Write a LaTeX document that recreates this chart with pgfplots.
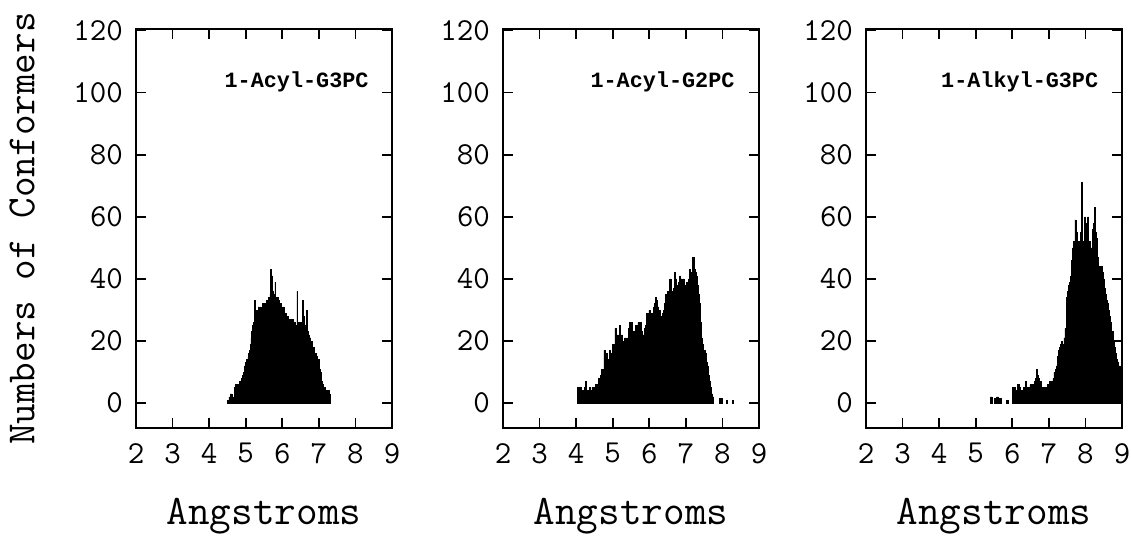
\documentclass[border=0pt]{standalone}
\usepackage{fontspec}
\usepackage{pgfplots}
\pgfplotsset{compat=1.18}
\newfontfamily\titlefont{Liberation Mono}

\pgfplotsset{
  panel/.style={
    scale only axis, width=128pt, height=199.5pt,
    xmin=2, xmax=9, ymin=-8, ymax=120.5,
    xtick={2,...,9}, ytick={0,20,...,120},
    tick align=inside, major tick length=5pt,
    axis line style={line width=0.9pt},
    every tick/.style={line width=0.8pt},
    /pgf/number format/assume math mode=true,
    tick label style={font=\fontsize{16}{18}\selectfont\ttfamily},
    xticklabel style={yshift=-4pt},
    yticklabel style={xshift=-3pt},
    xlabel={Angstroms},
    xlabel style={font=\fontsize{21}{24}\selectfont\ttfamily,
      at={(axis description cs:0.5,-0.222)}, anchor=center},
    clip=true,
  },
  hist/.style={const plot, fill=black, draw=black, line width=0.3pt},
}
\tikzset{ttl/.style={anchor=east, inner sep=0pt,
  font=\fontsize{10.9}{13}\selectfont\titlefont\bfseries}}

\begin{document}
\begin{tikzpicture}

% ---- 1-Acyl-G3PC
\begin{axis}[panel, at={(0,0)}, anchor=south west,
  ylabel={Numbers of Conformers},
  ylabel style={font=\fontsize{20}{22}\selectfont\ttfamily,
    at={(axis description cs:-0.445,0.5)}, anchor=center}]
\addplot[hist] coordinates {
(4.50,1) (4.52,1) (4.54,2) (4.56,1) (4.58,3) (4.60,3) (4.62,2) (4.64,1)
(4.66,2) (4.68,4) (4.70,5) (4.72,6) (4.74,5) (4.76,6) (4.78,5) (4.80,6)
(4.82,7) (4.84,6) (4.86,7) (4.88,8) (4.90,7) (4.92,9) (4.94,10) (4.96,12)
(4.98,11) (5.00,13) (5.02,14) (5.04,13) (5.06,15) (5.08,16) (5.10,17) (5.12,19)
(5.14,21) (5.16,23) (5.18,25) (5.20,24) (5.22,26) (5.24,33) (5.26,25) (5.28,27)
(5.30,30) (5.32,26) (5.34,31) (5.36,30) (5.38,28) (5.40,31) (5.42,30) (5.44,29)
(5.46,32) (5.48,30) (5.50,31) (5.52,32) (5.54,30) (5.56,33) (5.58,32) (5.60,31)
(5.62,34) (5.64,33) (5.66,35) (5.68,43) (5.70,37) (5.72,41) (5.74,36) (5.76,35)
(5.78,33) (5.80,39) (5.82,34) (5.84,33) (5.86,34) (5.88,32) (5.90,33) (5.92,31)
(5.94,32) (5.96,30) (5.98,31) (6.00,30) (6.02,29) (6.04,31) (6.06,28) (6.08,29)
(6.10,28) (6.12,27) (6.14,28) (6.16,26) (6.18,27) (6.20,26) (6.22,27) (6.24,25)
(6.26,26) (6.28,27) (6.30,26) (6.32,25) (6.34,26) (6.36,24) (6.38,25) (6.40,36)
(6.42,23) (6.44,26) (6.46,24) (6.48,22) (6.50,26) (6.52,25) (6.54,27) (6.56,33)
(6.58,28) (6.60,25) (6.62,24) (6.64,22) (6.66,30) (6.68,23) (6.70,21) (6.72,22)
(6.74,20) (6.76,21) (6.78,19) (6.80,20) (6.82,18) (6.84,17) (6.86,18) (6.88,16)
(6.90,15) (6.92,16) (6.94,15) (6.96,14) (6.98,13) (7.00,14) (7.02,11) (7.04,10)
(7.06,9) (7.08,7) (7.10,6) (7.12,5) (7.14,4) (7.16,5) (7.18,4) (7.20,4)
(7.22,3) (7.24,4) (7.26,4) (7.28,3) (7.30,0)
} \closedcycle;
\node[ttl] at (axis cs:8.37,103.5) {1-Acyl-G3PC};
\end{axis}

% ---- 1-Acyl-G2PC
\begin{axis}[panel, at={(183.5pt,0)}, anchor=south west]
\addplot[hist] coordinates {
(4.04,5) (4.07,4) (4.10,5) (4.13,3) (4.16,4) (4.19,3) (4.22,5) (4.25,7)
(4.28,4) (4.31,3) (4.34,4) (4.37,5) (4.40,4) (4.43,5) (4.46,5) (4.49,4)
(4.52,6) (4.55,5) (4.58,6) (4.61,8) (4.64,7) (4.67,9) (4.70,11) (4.73,10)
(4.76,17) (4.79,12) (4.82,16) (4.85,14) (4.88,13) (4.91,17) (4.94,15) (4.97,16)
(5.00,19) (5.03,18) (5.06,24) (5.09,20) (5.12,22) (5.15,20) (5.18,25) (5.21,21)
(5.24,22) (5.27,20) (5.30,19) (5.33,21) (5.36,20) (5.39,21) (5.42,24) (5.45,26)
(5.48,24) (5.51,26) (5.54,23) (5.57,22) (5.60,23) (5.63,25) (5.66,24) (5.69,26)
(5.72,25) (5.75,26) (5.78,23) (5.81,22) (5.84,22) (5.87,24) (5.90,25) (5.93,29)
(5.96,28) (5.99,30) (6.02,27) (6.05,29) (6.08,28) (6.11,31) (6.14,32) (6.17,34)
(6.20,33) (6.23,31) (6.26,30) (6.29,28) (6.32,27) (6.35,29) (6.38,30) (6.41,32)
(6.44,35) (6.47,34) (6.50,36) (6.53,35) (6.56,40) (6.59,36) (6.62,34) (6.65,37)
(6.68,42) (6.71,40) (6.74,38) (6.77,37) (6.80,39) (6.83,41) (6.86,40) (6.89,39)
(6.92,40) (6.95,38) (6.98,37) (7.01,39) (7.04,38) (7.07,40) (7.10,43) (7.13,41)
(7.16,42) (7.19,47) (7.22,43) (7.25,42) (7.28,41) (7.31,38) (7.34,35) (7.37,32)
(7.40,26) (7.43,21) (7.46,19) (7.49,17) (7.52,16) (7.55,13) (7.58,12) (7.61,9)
(7.64,7) (7.67,5) (7.70,3) (7.73,2) (7.76,0)
} \closedcycle;
\addplot[hist] coordinates {(7.92,1.5) (7.96,1.5) (8.00,0)} \closedcycle;
\addplot[hist] coordinates {(8.10,1) (8.13,0)} \closedcycle;
\addplot[hist] coordinates {(8.28,1) (8.31,0)} \closedcycle;
\node[ttl] at (axis cs:8.34,103.5) {1-Acyl-G2PC};
\end{axis}

% ---- 1-Alkyl-G3PC
\begin{axis}[panel, at={(365pt,0)}, anchor=south west]
\addplot[hist] coordinates {(5.40,2) (5.45,0)} \closedcycle;
\addplot[hist] coordinates {(5.52,1.5) (5.57,2) (5.62,1.5) (5.70,0)} \closedcycle;
\addplot[hist] coordinates {(5.84,1) (5.89,0)} \closedcycle;
\addplot[hist] coordinates {
(6.00,5) (6.03,4) (6.06,5) (6.09,3) (6.12,4) (6.15,6) (6.18,5) (6.21,3)
(6.24,4) (6.27,3) (6.30,5) (6.33,4) (6.36,7) (6.39,5) (6.42,4) (6.45,5)
(6.48,6) (6.51,5) (6.54,6) (6.57,5) (6.60,7) (6.63,8) (6.66,11) (6.69,9)
(6.72,8) (6.75,7) (6.78,5) (6.81,4) (6.84,5) (6.87,4) (6.90,5) (6.93,5)
(6.96,6) (6.99,5) (7.02,7) (7.05,6) (7.08,7) (7.11,8) (7.14,10) (7.17,11)
(7.20,12) (7.23,15) (7.26,17) (7.29,18) (7.32,19) (7.35,20) (7.38,19) (7.41,21)
(7.44,24) (7.47,34) (7.50,36) (7.53,38) (7.56,39) (7.59,41) (7.62,46) (7.65,50)
(7.68,52) (7.71,59) (7.74,55) (7.77,50) (7.80,52) (7.83,49) (7.86,55) (7.89,71)
(7.91,52) (7.94,50) (7.97,60) (8.00,58) (8.03,55) (8.06,60) (8.09,52) (8.12,47)
(8.15,50) (8.18,56) (8.21,58) (8.24,63) (8.27,55) (8.30,53) (8.33,47) (8.36,44)
(8.39,43) (8.42,44) (8.45,42) (8.48,40) (8.51,37) (8.54,35) (8.57,33) (8.60,32)
(8.63,30) (8.66,28) (8.69,26) (8.72,23) (8.75,20) (8.78,18) (8.81,16) (8.84,14)
(8.87,13) (8.90,12) (8.93,12) (8.96,11) (8.99,10) (9.00,0)
} \closedcycle;
\node[ttl] at (axis cs:8.36,103.5) {1-Alkyl-G3PC};
\end{axis}

\pgfresetboundingbox
\useasboundingbox (-68pt,-54pt) rectangle (497.5pt,214pt);
\end{tikzpicture}
\end{document}
